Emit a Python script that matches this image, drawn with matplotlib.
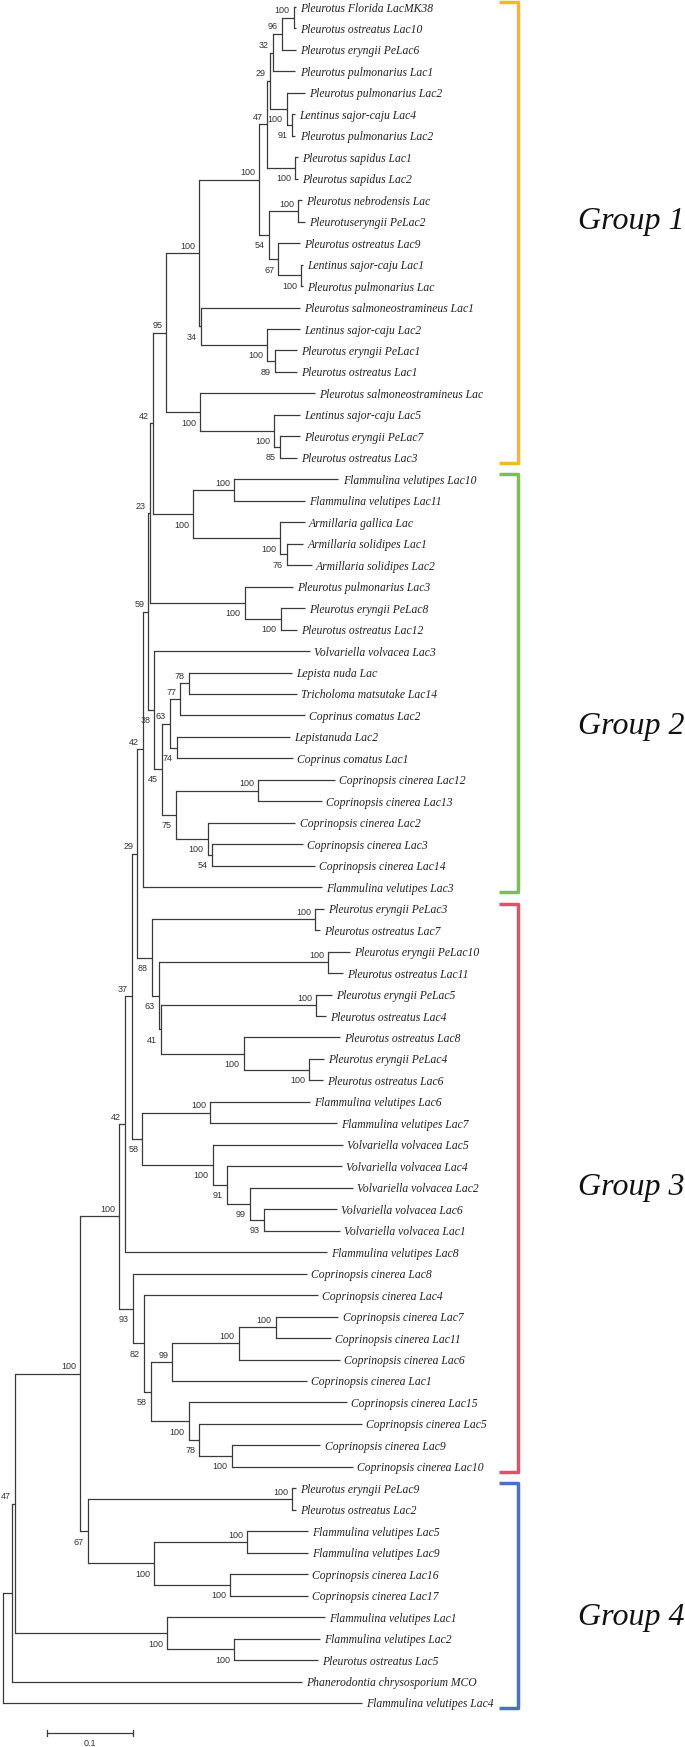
import matplotlib
matplotlib.use("Agg")
import matplotlib.pyplot as plt

# leaves, top to bottom, with tip depth (substitutions / site)
group1_leaves = [
    "Pleurotus Florida LacMK38", "Pleurotus ostreatus Lac10", "Pleurotus eryngii PeLac6",
    "Pleurotus pulmonarius Lac1", "Pleurotus pulmonarius Lac2", "Lentinus sajor-caju Lac4",
    "Pleurotus pulmonarius Lac2", "Pleurotus sapidus Lac1", "Pleurotus sapidus Lac2",
    "Pleurotus nebrodensis Lac", "Pleurotuseryngii PeLac2", "Pleurotus ostreatus Lac9",
    "Lentinus sajor-caju Lac1", "Pleurotus pulmonarius Lac", "Pleurotus salmoneostramineus Lac1",
    "Lentinus sajor-caju Lac2", "Pleurotus eryngii PeLac1", "Pleurotus ostreatus Lac1",
    "Pleurotus salmoneostramineus Lac", "Lentinus sajor-caju Lac5", "Pleurotus eryngii PeLac7",
    "Pleurotus ostreatus Lac3",
]
group1_tips = [0.341, 0.341, 0.341, 0.340, 0.351, 0.340, 0.340, 0.343, 0.343, 0.348, 0.351,
               0.345, 0.349, 0.349, 0.345, 0.345, 0.342, 0.342, 0.363, 0.345, 0.345, 0.342]

group2_leaves = [
    "Flammulina velutipes Lac10", "Flammulina velutipes Lac11", "Armillaria gallica Lac",
    "Armillaria solidipes Lac1", "Armillaria solidipes Lac2", "Pleurotus pulmonarius Lac3",
    "Pleurotus eryngii PeLac8", "Pleurotus ostreatus Lac12", "Volvariella volvacea Lac3",
    "Lepista nuda Lac", "Tricholoma matsutake Lac14", "Coprinus comatus Lac2",
    "Lepistanuda Lac2", "Coprinus comatus Lac1", "Coprinopsis cinerea Lac12",
    "Coprinopsis cinerea Lac13", "Coprinopsis cinerea Lac2", "Coprinopsis cinerea Lac3",
    "Coprinopsis cinerea Lac14", "Flammulina velutipes Lac3",
]
group2_tips = [0.390, 0.351, 0.351, 0.349, 0.359, 0.337, 0.351, 0.342, 0.357, 0.336,
               0.342, 0.351, 0.334, 0.337, 0.386, 0.371, 0.340, 0.349, 0.363, 0.371]

group3_leaves = [
    "Pleurotus eryngii PeLac3", "Pleurotus ostreatus Lac7", "Pleurotus eryngii PeLac10",
    "Pleurotus ostreatus Lac11", "Pleurotus eryngii PeLac5", "Pleurotus ostreatus Lac4",
    "Pleurotus ostreatus Lac8", "Pleurotus eryngii PeLac4", "Pleurotus ostreatus Lac6",
    "Flammulina velutipes Lac6", "Flammulina velutipes Lac7", "Volvariella volvacea Lac5",
    "Volvariella volvacea Lac4", "Volvariella volvacea Lac2", "Volvariella volvacea Lac6",
    "Volvariella volvacea Lac1", "Flammulina velutipes Lac8", "Coprinopsis cinerea Lac8",
    "Coprinopsis cinerea Lac4", "Coprinopsis cinerea Lac7", "Coprinopsis cinerea Lac11",
    "Coprinopsis cinerea Lac6", "Coprinopsis cinerea Lac1", "Coprinopsis cinerea Lac15",
    "Coprinopsis cinerea Lac5", "Coprinopsis cinerea Lac9", "Coprinopsis cinerea Lac10",
]
group3_tips = [0.373, 0.369, 0.403, 0.395, 0.383, 0.376, 0.392, 0.373, 0.372, 0.357,
               0.388, 0.395, 0.394, 0.407, 0.388, 0.392, 0.377, 0.353, 0.366, 0.390,
               0.381, 0.392, 0.353, 0.400, 0.417, 0.369, 0.407]

group4_leaves = [
    "Pleurotus eryngii PeLac9", "Pleurotus ostreatus Lac2", "Flammulina velutipes Lac5",
    "Flammulina velutipes Lac9", "Coprinopsis cinerea Lac16", "Coprinopsis cinerea Lac17",
    "Flammulina velutipes Lac1", "Flammulina velutipes Lac2", "Pleurotus ostreatus Lac5",
    "Phanerodontia chrysosporium MCO", "Flammulina velutipes Lac4",
]
group4_tips = [0.341, 0.341, 0.355, 0.355, 0.355, 0.355, 0.374, 0.369, 0.366, 0.348, 0.417]

# internal nodes: (name, upper child, lower child, depth, bootstrap)
# ints are leaf indices, strings are other nodes
group1_clades = [
    ("g1a", 0, 1, 0.338, 100), ("g1b", "g1a", 2, 0.324, 96), ("g1c", "g1b", 3, 0.314, 32),
    ("g1e", 5, 6, 0.336, 91), ("g1d", 4, "g1e", 0.330, 100), ("g1f", "g1c", "g1d", 0.310, 29),
    ("g1g", 7, 8, 0.340, 100), ("g1h", "g1f", "g1g", 0.307, 47), ("g1i", 9, 10, 0.343, 100),
    ("g1j", 12, 13, 0.347, 100), ("g1k", 11, "g1j", 0.320, 67), ("g1l", "g1i", "g1k", 0.309, 54),
    ("g1m", "g1h", "g1l", 0.298, 100), ("g1n", 16, 17, 0.316, 89), ("g1o", 15, "g1n", 0.307, 100),
    ("g1p", 14, "g1o", 0.230, 34), ("g1q", "g1m", "g1p", 0.228, 100), ("g1r", 20, 21, 0.322, 85),
    ("g1s", 19, "g1r", 0.315, 100), ("g1t", 18, "g1s", 0.229, 100), ("g1u", "g1q", "g1t", 0.190, 95),
]
group2_clades = [
    ("g2a", 22, 23, 0.269, 100), ("g2b", 25, 26, 0.330, 76), ("g2c", 24, "g2b", 0.322, 100),
    ("g2d", "g2a", "g2c", 0.221, 100), ("g2e", 28, 29, 0.323, 100), ("g2f", 27, "g2e", 0.281, 100),
    ("g2g", 31, 32, 0.216, 78), ("g2h", "g2g", 33, 0.206, 77), ("g2i", 34, 35, 0.202, 74),
    ("g2j", "g2h", "g2i", 0.194, 63), ("g2k", 36, 37, 0.297, 100), ("g2l", 39, 40, 0.243, 54),
    ("g2m", 38, "g2l", 0.238, 100), ("g2n", "g2k", "g2m", 0.201, 75), ("g2o", "g2j", "g2n", 0.185, 45),
    ("g2p", 30, "g2o", 0.176, 38),
]
group3_clades = [
    ("g3a", 42, 43, 0.363, 100), ("g3b", 44, 45, 0.378, 100), ("g3c", 46, 47, 0.364, 100),
    ("g3d", 49, 50, 0.356, 100), ("g3e", 48, "g3d", 0.280, 100), ("g3f", "g3c", "g3e", 0.184, 41),
    ("g3g", "g3b", "g3f", 0.181, 63), ("g3h", "g3a", "g3g", 0.173, 88), ("g3i", 51, 52, 0.241, 100),
    ("g3j", 56, 57, 0.303, 93), ("g3k", 55, "g3j", 0.287, 99), ("g3l", 54, "g3k", 0.260, 91),
    ("g3m", 53, "g3l", 0.244, 100), ("g3n", "g3i", "g3m", 0.162, 58), ("g3o", 61, 62, 0.317, 100),
    ("g3p", "g3o", 63, 0.274, 100), ("g3q", "g3p", 64, 0.197, 99), ("g3r", 67, 68, 0.266, 100),
    ("g3s", 66, "g3r", 0.228, 78), ("g3t", 65, "g3s", 0.216, 100), ("g3u", "g3q", "g3t", 0.172, 58),
    ("g3v", 60, "g3u", 0.164, 82), ("g3w", 59, "g3v", 0.151, 93),
]
group4_clades = [
    ("g4a", 69, 70, 0.336, 100), ("g4b", 71, 72, 0.284, 100), ("g4c", 73, 74, 0.264, 100),
    ("g4d", "g4b", "g4c", 0.176, 100), ("g4e", "g4a", "g4d", 0.099, 67), ("g4f", 76, 77, 0.269, 100),
    ("g4g", 75, "g4f", 0.191, 100),
]
backbone_clades = [
    ("b1", "g1u", "g2d", 0.174, 42), ("b2", "b1", "g2f", 0.171, 23), ("b3", "b2", "g2p", 0.169, 59),
    ("b4", "b3", 41, 0.163, 42), ("b5", "b4", "g3h", 0.156, 29), ("b6", "b5", "g3n", 0.150, 37),
    ("b7", "b6", 58, 0.142, 42), ("b8", "b7", "g3w", 0.135, 100), ("b9", "b8", "g4e", 0.090, 100),
    ("b10", "b9", "g4g", 0.014, 47), ("b11", "b10", 78, 0.010, None), ("root", "b11", 79, 0.0, None),
]

group_names = ["Group 1", "Group 2", "Group 3", "Group 4"]
group_colors = ["#F6B822", "#7DBE4E", "#DE5166", "#4A70C6"]
label_row_shift = [-0.5, 2.0, 0.0, 1.0]   # label offset from the group's middle row

leaves = group1_leaves + group2_leaves + group3_leaves + group4_leaves
tips = group1_tips + group2_tips + group3_tips + group4_tips
clades = group1_clades + group2_clades + group3_clades + group4_clades + backbone_clades
group_sizes = [len(group1_leaves), len(group2_leaves), len(group3_leaves), len(group4_leaves)]

PX = 860.0     # pixels per unit of distance (0.1 bar = 86 px)
ROW = 21.468   # pixels per leaf row
LINE = "#3a3a3a"

fig = plt.figure(figsize=(6.85, 17.47), dpi=100)
ax = fig.add_axes([0, 0, 1, 1])
ax.axis("off")
ax.set_xlim(-3 / PX, 682 / PX)
ax.set_ylim(len(leaves) - 1 + 44 / ROW, -7 / ROW)

ypos = {i: float(i) for i in range(len(leaves))}
xpos = {i: t for i, t in enumerate(tips)}
is_upper = {}
for name, up, lo, d, s in clades:
    ypos[name] = (ypos[up] + ypos[lo]) / 2
    xpos[name] = d
    is_upper[up] = True
    is_upper[lo] = False

for name, up, lo, d, s in clades:
    ax.plot([d, d], [ypos[up], ypos[lo]], color=LINE, lw=0.9, solid_capstyle="projecting")
    for c in (up, lo):
        ax.plot([d, xpos[c]], [ypos[c], ypos[c]], color=LINE, lw=0.9, solid_capstyle="butt")
    if s is not None:
        dy = 3.2 if is_upper.get(name, True) else -9.6
        ax.annotate(str(s), xy=(d, ypos[name]), xytext=(-2.9, dy), textcoords="offset points",
                    ha="right", va="baseline", fontsize=6.5, color="#333333",
                    family="Liberation Sans")

for i, lab in enumerate(leaves):
    ax.annotate(lab, xy=(tips[i], i), xytext=(3, 0), textcoords="offset points",
                ha="left", va="center_baseline", fontsize=8.4, fontstyle="italic",
                color="#222222", family="Liberation Serif")

# group brackets and labels
bar_x = (518 - 3) / PX
hook_x = (499 - 3) / PX
pad = 5 / ROW
start = 0
for gname, gcol, n, shift in zip(group_names, group_colors, group_sizes, label_row_shift):
    top, bot = start - pad, start + n - 1 + pad
    ax.plot([hook_x, bar_x, bar_x, hook_x], [top, top, bot, bot], color=gcol, lw=2.5,
            solid_joinstyle="round", solid_capstyle="butt")
    ax.text((578 - 3) / PX, start + (n - 1) / 2 + shift, gname, fontsize=23, fontstyle="italic",
            family="Liberation Serif", ha="left", va="center", color="#111111")
    start += n

# scale bar
sb_y = len(leaves) - 1 + 30 / ROW
sb_x0 = (47 - 3) / PX
ax.plot([sb_x0, sb_x0 + 0.1], [sb_y, sb_y], color=LINE, lw=0.9)
for xx in (sb_x0, sb_x0 + 0.1):
    ax.plot([xx, xx], [sb_y - 3 / ROW, sb_y + 3 / ROW], color=LINE, lw=0.9)
ax.text(sb_x0 + 0.05, sb_y + 6 / ROW, "0.1", ha="center", va="top", fontsize=6.5,
        color="#333333", family="Liberation Sans")

fig.savefig("out.png", dpi=100, facecolor="white")
